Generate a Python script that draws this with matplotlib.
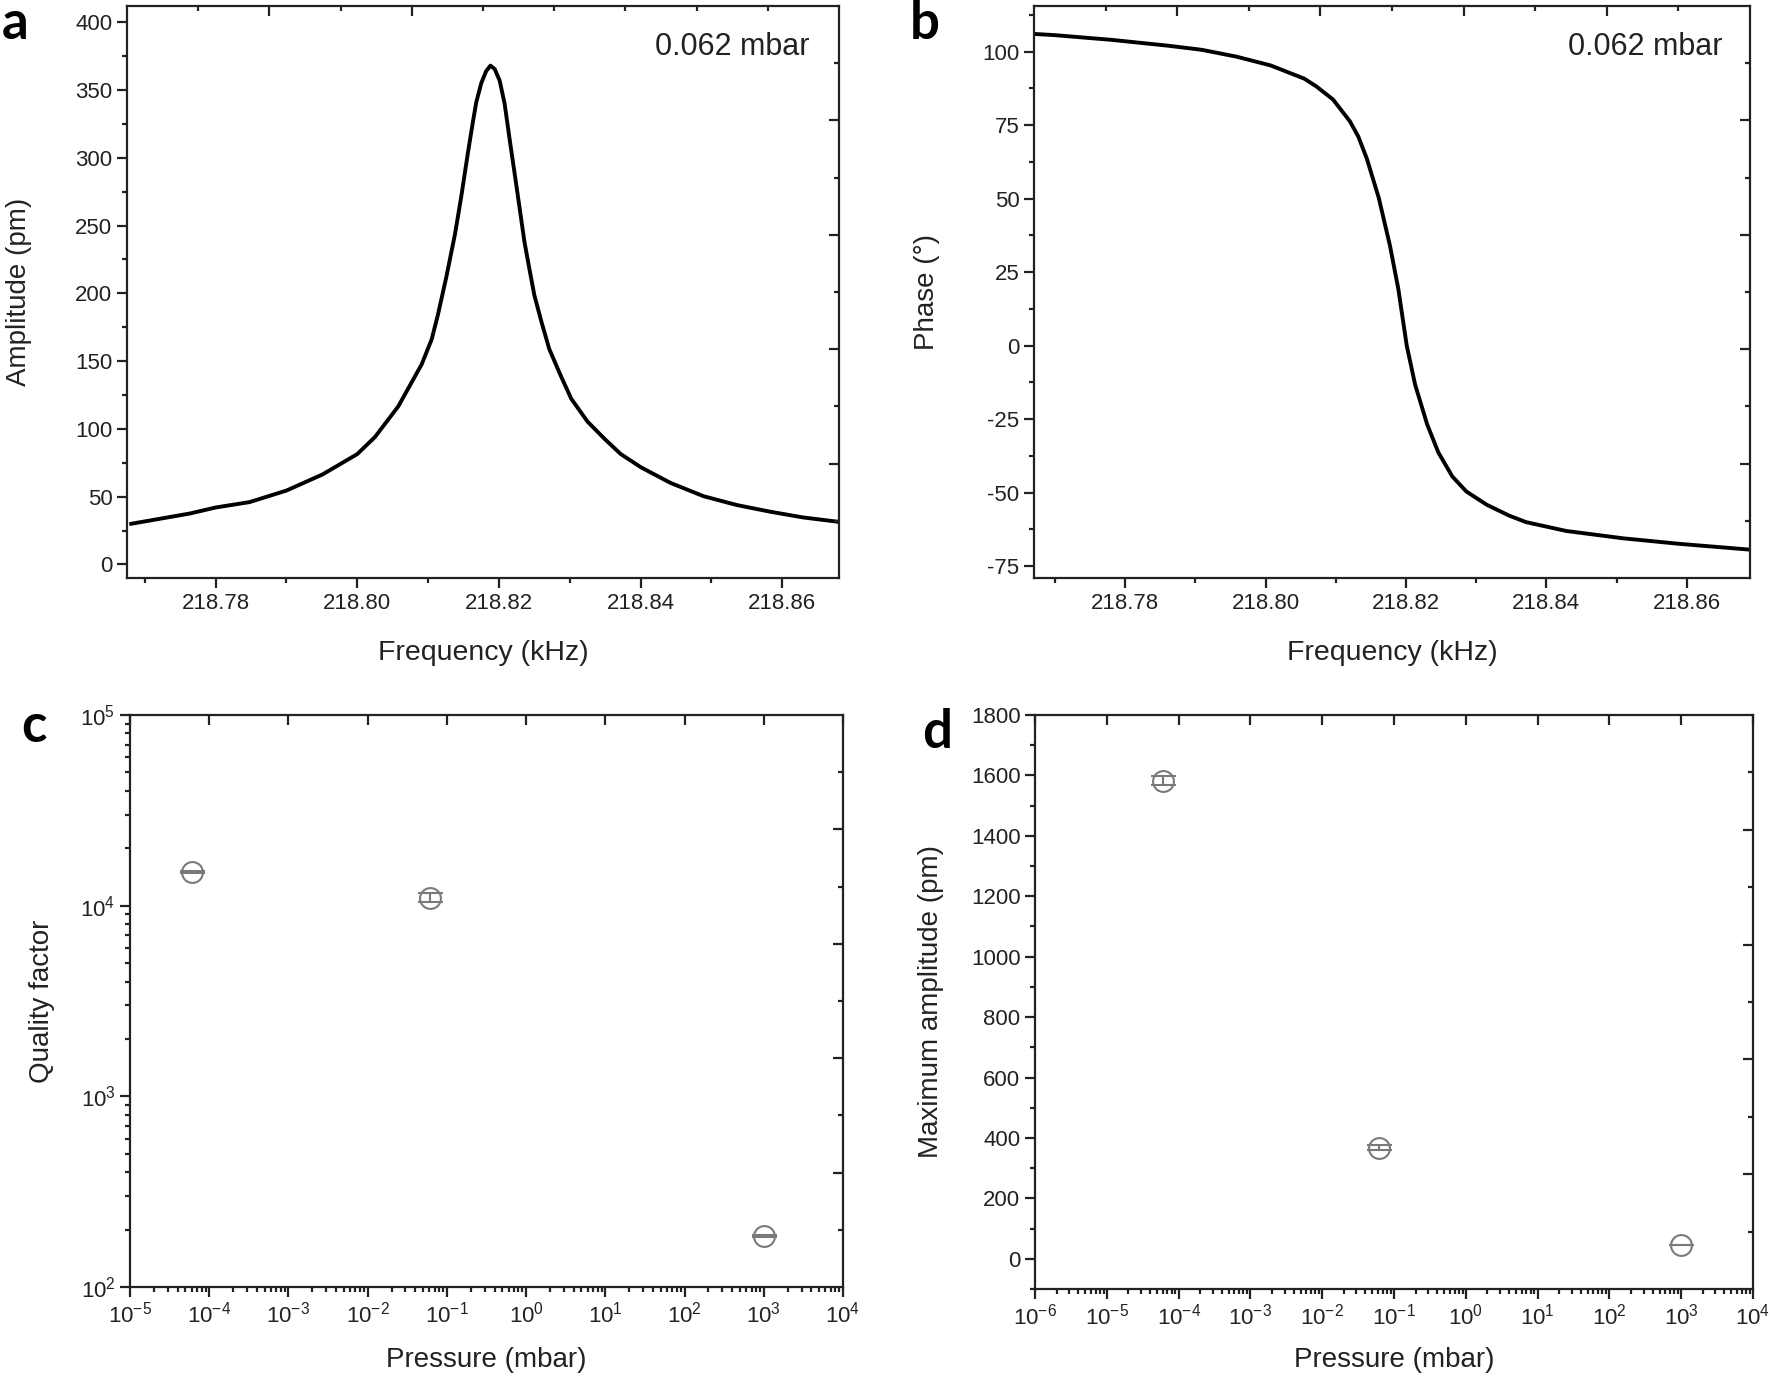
import matplotlib
matplotlib.use("Agg")
import matplotlib.pyplot as plt
import numpy as np
from matplotlib.ticker import MultipleLocator, LogLocator, NullFormatter

plt.rcParams['font.family'] = ['Liberation Sans', 'DejaVu Sans']
plt.rcParams['axes.unicode_minus'] = False

# Data (panel a: amplitude resonance at 0.062 mbar)
amp_freq = [218.7681, 218.7717, 218.7764, 218.7800, 218.7848, 218.7900, 218.7951,
            218.8000, 218.8025, 218.8058, 218.8091, 218.8105, 218.8114, 218.8126,
            218.8138, 218.8147, 218.8156, 218.8163, 218.8168, 218.8175, 218.8182,
            218.8188, 218.8194, 218.8201, 218.8208, 218.8215, 218.8222, 218.8229,
            218.8236, 218.8243, 218.8250, 218.8260, 218.8271, 218.8286, 218.8302,
            218.8325, 218.8349, 218.8372, 218.8401, 218.8442, 218.8489, 218.8536,
            218.8582, 218.8629, 218.8680]
amp_pm = [30.0, 33.3, 37.6, 42.0, 46.0, 54.5, 66.4, 81.4, 94.0, 116.7, 147.7,
          166.0, 184.5, 212.7, 243.8, 272.0, 303.0, 325.7, 341.0, 355.0, 364.0,
          368.0, 365.5, 357.0, 340.0, 314.0, 289.0, 263.6, 238.0, 218.0, 198.6,
          179.0, 159.0, 140.7, 122.3, 105.4, 92.7, 81.4, 71.5, 60.2, 50.3, 43.8,
          39.0, 34.7, 31.4]

# panel b: phase
ph_freq = [218.7670, 218.7699, 218.7780, 218.7861, 218.7909, 218.7958, 218.8007,
           218.8055, 218.8072, 218.8096, 218.8120, 218.8132, 218.8144,
           218.8161, 218.8177, 218.8189, 218.8201, 218.8213, 218.8230, 218.8246,
           218.8266, 218.8286, 218.8315, 218.8347, 218.8371, 218.8428, 218.8509,
           218.8590, 218.8692]
ph_deg = [106.0, 105.6, 104.0, 102.0, 100.6, 98.3, 95.3, 90.8, 88.2, 83.7,
          76.3, 71.1, 63.7, 50.4, 34.1, 19.3, 0.0, -13.3, -26.7, -36.3, -44.5,
          -49.6, -54.1, -57.8, -60.0, -63.0, -65.5, -67.4, -69.4]

# panels c, d: vs pressure
pressure = [6e-5, 0.062, 1000]
q_factor = [15000, 11000, 185]
q_err = [150, 600, 2]
max_amp = [1582, 368, 45]
max_amp_err = [15, 9, 1]

W, H = 1770, 1384
fig = plt.figure(figsize=(W / 100, H / 100), dpi=100)

def box(l, t, r, b):
    return [l / W, 1 - b / H, (r - l) / W, (b - t) / H]

ax_a = fig.add_axes(box(127, 6, 839, 578))
ax_b = fig.add_axes(box(1034, 6, 1750, 578))
ax_c = fig.add_axes(box(130, 715, 843, 1287))
ax_d = fig.add_axes(box(1035, 715, 1753, 1289))

tick_col = '#222222'
lw_spine = 1.6

def opposite_ticks(ax, top_major, top_minor, top_log=False):
    # right side: inward ticks at fixed fractions (Origin style)
    tr = ax.twinx()
    tr.set_ylim(0, 1)
    tr.set_yticks([0.2, 0.4, 0.6, 0.8])
    tr.set_yticks([0.1, 0.3, 0.5, 0.7, 0.9], minor=True)
    tr.tick_params(axis='y', which='both', direction='in', labelright=False,
                   color=tick_col, width=lw_spine)
    tr.tick_params(axis='y', which='major', length=7.5)
    tr.tick_params(axis='y', which='minor', length=3.5)
    tt = ax.twiny()
    if top_log:
        tt.set_xscale('log')
        tt.set_xlim(ax.get_xlim())
    else:
        tt.set_xlim(0, 1)
    tt.set_xticks(top_major)
    tt.set_xticks(top_minor, minor=True)
    tt.tick_params(axis='x', which='both', direction='in', labeltop=False,
                   color=tick_col, width=lw_spine)
    tt.tick_params(axis='x', which='major', length=7.5)
    tt.tick_params(axis='x', which='minor', length=3.5)
    for t in (tr, tt):
        for s in t.spines.values():
            s.set_visible(False)

def style(ax):
    for s in ax.spines.values():
        s.set_linewidth(lw_spine)
        s.set_color(tick_col)
    ax.tick_params(which='both', direction='out', color=tick_col, width=lw_spine,
                   labelsize=16, labelcolor=tick_col, top=False, right=False)
    ax.tick_params(which='major', length=7)
    ax.tick_params(which='minor', length=3.5)

# ---- a
ax_a.plot(amp_freq, amp_pm, color='black', lw=2.8, solid_joinstyle='round')
ax_a.set_xlim(218.7675, 218.868)
ax_a.set_ylim(-10, 412)
ax_a.xaxis.set_major_locator(MultipleLocator(0.02))
ax_a.xaxis.set_minor_locator(MultipleLocator(0.01))
ax_a.yaxis.set_major_locator(MultipleLocator(50))
ax_a.yaxis.set_minor_locator(MultipleLocator(25))
ax_a.xaxis.set_major_formatter(plt.FormatStrFormatter('%.2f'))
opposite_ticks(ax_a, [0.2, 0.4], [0.1, 0.3, 0.5, 0.6, 0.7, 0.8, 0.9])
style(ax_a)
ax_a.set_xlabel('Frequency (kHz)', fontsize=20.5, color=tick_col)
ax_a.set_ylabel('Amplitude (pm)', fontsize=20, color=tick_col)
ax_a.xaxis.set_label_coords(0.5, -0.108)
ax_a.yaxis.set_label_coords(-0.133, 0.5)
ax_a.text(0.958, 0.929, '0.062 mbar', transform=ax_a.transAxes, ha='right',
          va='center', fontsize=22, color=tick_col)

# ---- b
ax_b.plot(ph_freq, ph_deg, color='black', lw=2.8, solid_joinstyle='round')
ax_b.set_xlim(218.767, 218.869)
ax_b.set_ylim(-79, 115.5)
ax_b.xaxis.set_major_locator(MultipleLocator(0.02))
ax_b.xaxis.set_minor_locator(MultipleLocator(0.01))
ax_b.yaxis.set_major_locator(MultipleLocator(25))
ax_b.yaxis.set_minor_locator(MultipleLocator(12.5))
ax_b.xaxis.set_major_formatter(plt.FormatStrFormatter('%.2f'))
opposite_ticks(ax_b, [0.2, 0.4, 0.6, 0.8], [0.1, 0.3, 0.5, 0.7, 0.9])
style(ax_b)
ax_b.set_xlabel('Frequency (kHz)', fontsize=20.5, color=tick_col)
ax_b.set_ylabel('Phase (°)', fontsize=20, color=tick_col)
ax_b.xaxis.set_label_coords(0.5, -0.108)
ax_b.yaxis.set_label_coords(-0.131, 0.5)
ax_b.text(0.961, 0.929, '0.062 mbar', transform=ax_b.transAxes, ha='right',
          va='center', fontsize=22, color=tick_col)

# ---- c
pt_col = '#7a7a7a'
ax_c.errorbar(pressure, q_factor, yerr=q_err, fmt='o', ms=15, mfc='none',
              mec=pt_col, mew=1.5, ecolor=pt_col, elinewidth=1.5, capsize=9,
              capthick=1.5)
ax_c.set_xscale('log')
ax_c.set_yscale('log')
ax_c.set_xlim(1e-5, 1e4)
ax_c.set_ylim(1e2, 1e5)
ax_c.xaxis.set_major_locator(LogLocator(base=10, numticks=20))
ax_c.xaxis.set_minor_locator(LogLocator(base=10, subs=np.arange(2, 10), numticks=20))
ax_c.xaxis.set_minor_formatter(NullFormatter())
ax_c.yaxis.set_minor_locator(LogLocator(base=10, subs=np.arange(2, 10), numticks=20))
ax_c.yaxis.set_minor_formatter(NullFormatter())
opposite_ticks(ax_c, [10.0 ** k for k in range(-5, 5)], [], top_log=True)
style(ax_c)
ax_c.set_xlabel('Pressure (mbar)', fontsize=20, color=tick_col)
ax_c.set_ylabel('Quality factor', fontsize=20, color=tick_col)
ax_c.xaxis.set_label_coords(0.5, -0.105)
ax_c.yaxis.set_label_coords(-0.105, 0.5)

# ---- d
ax_d.errorbar(pressure, max_amp, yerr=max_amp_err, fmt='o', ms=15, mfc='none',
              mec=pt_col, mew=1.5, ecolor=pt_col, elinewidth=1.5, capsize=9,
              capthick=1.5)
ax_d.set_xscale('log')
ax_d.set_xlim(1e-6, 1e4)
ax_d.set_ylim(-100, 1800)
ax_d.xaxis.set_major_locator(LogLocator(base=10, numticks=20))
ax_d.xaxis.set_minor_locator(LogLocator(base=10, subs=np.arange(2, 10), numticks=20))
ax_d.xaxis.set_minor_formatter(NullFormatter())
ax_d.yaxis.set_major_locator(MultipleLocator(200))
ax_d.yaxis.set_minor_locator(MultipleLocator(100))
opposite_ticks(ax_d, [10.0 ** k for k in range(-6, 5)], [], top_log=True)
style(ax_d)
ax_d.set_xlabel('Pressure (mbar)', fontsize=20, color=tick_col)
ax_d.set_ylabel('Maximum amplitude (pm)', fontsize=20, color=tick_col)
ax_d.xaxis.set_label_coords(0.5, -0.101)
ax_d.yaxis.set_label_coords(-0.127, 0.5)

# panel letters
for lab, x, y in [('a', 0.001, 0.983), ('b', 0.514, 0.983),
                  ('c', 0.012, 0.475), ('d', 0.521, 0.471)]:
    fig.text(x, y, lab, fontsize=38, fontweight='bold', family='Lato',
             ha='left', va='center')

fig.savefig('out.png', dpi=100)
